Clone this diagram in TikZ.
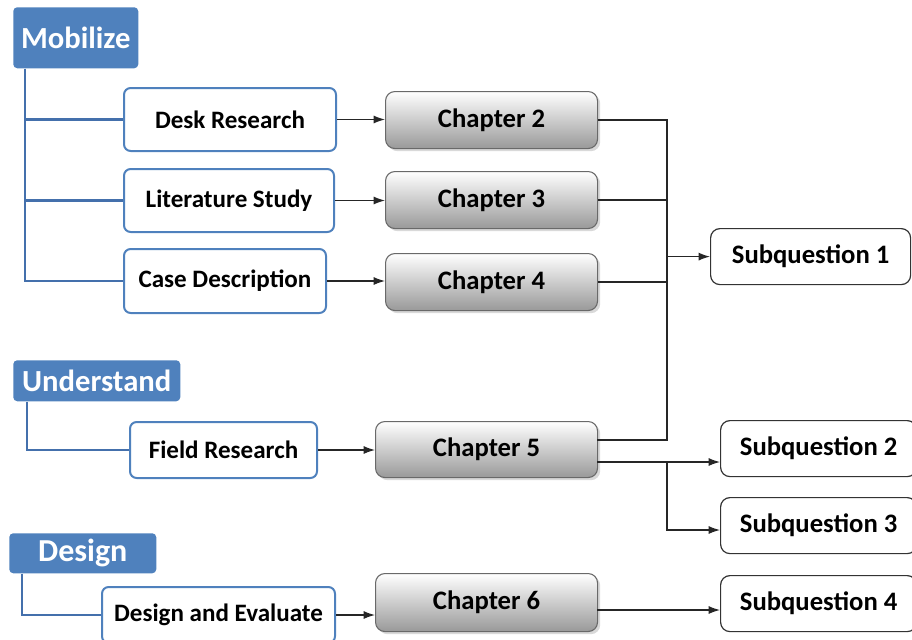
\documentclass[tikz,border=0pt]{standalone}
\usepackage{fontspec}
\setmainfont{Carlito}
\usetikzlibrary{arrows.meta,shadows,calc}
\definecolor{mblue}{RGB}{79,129,189}
\definecolor{lblue}{RGB}{68,112,172}
\definecolor{cborder}{RGB}{105,105,105}
\begin{document}
\begin{tikzpicture}[x=0.75pt,y=-0.75pt,
  phase/.style={fill=mblue, draw=none, rounded corners=3pt, text=white,
    font=\bfseries\fontsize{23}{26}\selectfont, inner sep=0pt, anchor=north west},
  task/.style={draw=mblue, line width=1.5pt, fill=white, rounded corners=5pt,
    font=\bfseries\fontsize{18.8}{21}\selectfont, inner sep=0pt, anchor=north west},
  chap/.style={draw=cborder, line width=0.8pt, top color=white, bottom color=black!40,
    rounded corners=7pt, font=\bfseries\fontsize{20}{24}\selectfont, inner sep=0pt,
    anchor=north west, drop shadow={shadow xshift=2pt,shadow yshift=-2pt,opacity=0.3}},
  subq/.style={draw=black!80, line width=0.9pt, fill=white, rounded corners=7pt,
    font=\bfseries\fontsize{20}{24}\selectfont, inner sep=0pt, anchor=north west},
  bline/.style={draw=lblue, line width=2.2pt},
  conn/.style={draw=black!85, line width=0.9pt},
  arr/.style={conn, -{Latex[length=8.5pt,width=6pt]}}
]
\path[use as bounding box, clip] (0,0) rectangle (912,639);

% phase headers
\node[phase, minimum width=93.75pt, minimum height=45.75pt] (mob) at (13,7) {Mobilize};
\node[phase, minimum width=125.25pt, minimum height=30.75pt] (und) at (13,360) {Understand};
\node[phase, minimum width=110.25pt, minimum height=30pt, font=\bfseries\fontsize{24}{27}\selectfont] (des) at (9,533) {Design};

% tasks
\node[task, minimum width=159pt, minimum height=47.25pt] (desk) at (123,87) {Desk Research};
\node[task, minimum width=157.5pt, minimum height=47.25pt] (lit) at (123,168) {Literature Study};
\node[task, minimum width=151.5pt, minimum height=48pt] (case) at (123,248) {Case Description};
\node[task, minimum width=140.25pt, minimum height=42pt] (field) at (129,421) {Field Research};
\node[task, minimum width=174.75pt, minimum height=42pt] (deseval) at (101,586) {Design and Evaluate};

% chapters
\node[chap, minimum width=159pt, minimum height=42.75pt] (ch2) at (385,91) {Chapter 2};
\node[chap, minimum width=159pt, minimum height=42.75pt] (ch3) at (385,171) {Chapter 3};
\node[chap, minimum width=159pt, minimum height=42.75pt] (ch4) at (385,253) {Chapter 4};
\node[chap, minimum width=166.5pt, minimum height=42pt] (ch5) at (375,421) {Chapter 5};
\node[chap, minimum width=166.5pt, minimum height=43.5pt] (ch6) at (375,573) {Chapter 6};

% subquestions
\node[subq, minimum width=150pt, minimum height=42pt] (sq1) at (710,228) {Subquestion 1};
\node[subq, minimum width=147pt, minimum height=42pt] (sq2) at (720,420) {Subquestion 2};
\node[subq, minimum width=147pt, minimum height=42pt] (sq3) at (720,497) {Subquestion 3};
\node[subq, minimum width=147pt, minimum height=42pt] (sq4) at (720,575) {Subquestion 4};

% blue tree lines
\coordinate (mobx) at (25,0);
\coordinate (undx) at (27,0);
\coordinate (desx) at (22,0);
\draw[bline] (mob.south -| mobx) |- (case.west);
\draw[bline] (mobx |- desk.west) -- (desk.west);
\draw[bline] (mobx |- lit.west) -- (lit.west);
\draw[bline] (und.south -| undx) |- (field.west);
\draw[bline] (des.south -| desx) |- (deseval.west);

% task -> chapter arrows
\draw[arr] (desk.east) -- (desk.east -| ch2.west);
\draw[arr] (lit.east) -- (lit.east -| ch3.west);
\draw[arr] (case.east) -- (case.east -| ch4.west);
\draw[arr] (field.east) -- (field.east -| ch5.west);
\draw[arr] (deseval.east) -- (deseval.east -| ch6.west);

% chapter -> subquestion connectors
\coordinate (jx) at (667,0);
\coordinate (c5a) at (597,440);
\coordinate (c5b) at (597,462);
\coordinate (c5c) at (0,530);
\coordinate (c6a) at (597,610);
\draw[conn] (ch2.east) -| (jx |- c5a) -- (c5a);
\draw[conn] (ch3.east) -- (ch3.east -| jx);
\draw[conn] (ch4.east) -- (ch4.east -| jx);
\draw[arr] (jx |- sq1.west) -- (sq1.west);
\draw[arr] (c5b) -- (c5b -| sq2.west);
\draw[arr] (c5b -| jx) |- (c5c -| sq3.west);
\draw[arr] (c6a) -- (c6a -| sq4.west);
\end{tikzpicture}
\end{document}
